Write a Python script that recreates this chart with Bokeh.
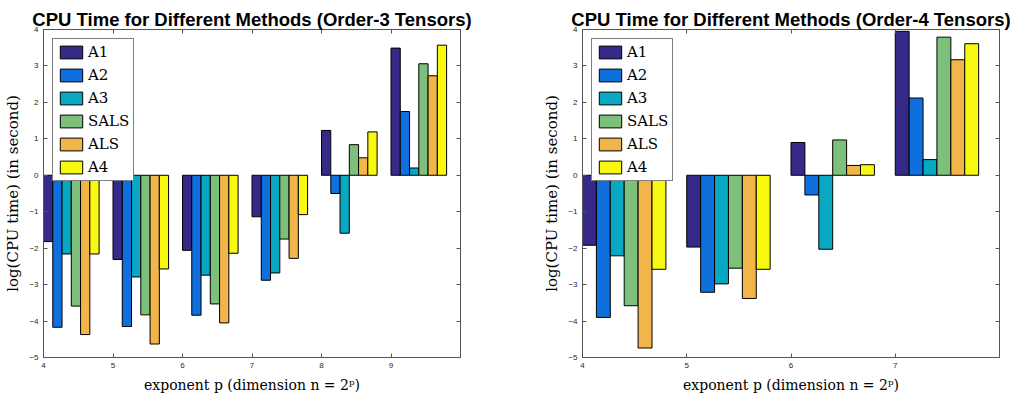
import numpy as np
from bokeh.plotting import figure
from bokeh.models import FixedTicker, LinearAxis, Range1d, Legend, LegendItem
from bokeh.layouts import row
from bokeh.embed import file_html
from bokeh.resources import INLINE

methods = ["A1", "A2", "A3", "SALS", "ALS", "A4"]
colors = ["#352a87", "#0f6fdd", "#08a8c2", "#7dc07c", "#f1b54a", "#f8f810"]

p_order3 = [4, 5, 6, 7, 8, 9]
order3 = {
    "A1":   [-1.82, -2.31, -2.06, -1.14, 1.23, 3.49],
    "A2":   [-4.17, -4.15, -3.84, -2.88, -0.50, 1.75],
    "A3":   [-2.16, -2.79, -2.74, -2.68, -1.59, 0.20],
    "SALS": [-3.59, -3.83, -3.53, -1.75, 0.84, 3.06],
    "ALS":  [-4.37, -4.63, -4.05, -2.28, 0.48, 2.73],
    "A4":   [-2.16, -2.57, -2.14, -1.08, 1.19, 3.57],
}

p_order4 = [4, 5, 6, 7]
order4 = {
    "A1":   [-1.92, -1.97, 0.90, 3.95],
    "A2":   [-3.90, -3.21, -0.54, 2.12],
    "A3":   [-2.21, -2.98, -2.03, 0.43],
    "SALS": [-3.58, -2.55, 0.97, 3.79],
    "ALS":  [-4.74, -3.38, 0.27, 3.17],
    "A4":   [-2.58, -2.58, 0.29, 3.61],
}

titles = ["CPU Time for Different Methods (Order-3 Tensors)",
          "CPU Time for Different Methods (Order-4 Tensors)"]
y_ticks = [-5, -4, -3, -2, -1, 0, 1, 2, 3, 4]
x_label = "exponent p (dimension n = 2\u1d56)"
y_label = "log(CPU time) (in second)"

AX = "#555555"
TICK_FONT = "Liberation Sans"
SERIF = "DejaVu Serif"


def make_panel(title, ps, data, xmax, border_left, border_right):
    f = figure(width=507, height=396, output_backend="svg", toolbar_location=None,
               x_range=Range1d(4, xmax), y_range=Range1d(-5, 4),
               min_border_left=border_left, min_border_right=border_right,
               min_border_top=29, min_border_bottom=39)
    f.title.text = title
    f.title.align = "center"
    f.title.text_font = "Liberation Sans"
    f.title.text_font_size = "18.5px"
    f.title.text_font_style = "bold"
    f.title.text_color = "black"
    f.title.standoff = 0
    f.title.offset = 0
    f.grid.visible = False
    f.outline_line_color = AX
    f.outline_line_width = 1
    f.background_fill_color = "white"
    f.border_fill_color = "white"

    w = 0.8 / len(methods)
    ps_arr = np.array(ps, dtype=float)
    items = []
    for i, m in enumerate(methods):
        r = f.vbar(x=ps_arr + (i + 0.5) * w, top=data[m], bottom=0, width=w,
                   fill_color=colors[i], line_color="black", line_width=1)
        items.append(LegendItem(label=m, renderers=[r]))

    xt = FixedTicker(ticks=list(range(4, int(xmax))))
    yt = FixedTicker(ticks=y_ticks)
    for ax in f.xaxis:
        ax.ticker = xt
    for ax in f.yaxis:
        ax.ticker = yt
    for ax in list(f.xaxis) + list(f.yaxis):
        ax.major_tick_in = 4
        ax.major_tick_out = 0
        ax.minor_tick_line_color = None
        ax.axis_line_color = AX
        ax.major_tick_line_color = AX
        ax.major_label_text_font = TICK_FONT
        ax.major_label_text_font_size = "8px"
        ax.major_label_text_color = "#262626"
        ax.major_label_standoff = 5
        ax.axis_label_text_font = SERIF
        ax.axis_label_text_font_size = "15px"
        ax.axis_label_text_font_style = "normal"
        ax.axis_label_text_color = "black"
        ax.axis_label_standoff = 6
    f.xaxis.axis_label = x_label
    f.xaxis.axis_label_text_font_size = "14px"
    f.yaxis.axis_label = y_label
    f.yaxis.axis_label_standoff = 4

    top = LinearAxis(ticker=xt, major_tick_in=4, major_tick_out=0,
                     minor_tick_line_color=None, axis_line_color=AX,
                     major_tick_line_color=AX, major_label_text_font_size="0px",
                     major_label_standoff=0,
                     major_label_overrides={t: "" for t in range(4, int(xmax))})
    right = LinearAxis(ticker=yt, major_tick_in=4, major_tick_out=0,
                       minor_tick_line_color=None, axis_line_color=AX,
                       major_tick_line_color=AX, major_label_text_font_size="0px",
                       major_label_standoff=0,
                       major_label_overrides={t: "" for t in y_ticks})
    f.add_layout(top, "above")
    f.add_layout(right, "right")

    leg = Legend(items=items, location="top_left", margin=9, padding=4,
                 spacing=5, glyph_width=28, glyph_height=16, label_height=16,
                 label_standoff=3, label_text_font=SERIF,
                 label_text_font_size="15px", label_text_color="black",
                 border_line_color="black", border_line_width=1,
                 background_fill_color="white", background_fill_alpha=1)
    f.add_layout(leg, "center")
    return f


left = make_panel(titles[0], p_order3, order3, 10, 43, 47)
right_fig = make_panel(titles[1], p_order4, order4, 8, 75, 15)

layout = row(left, right_fig)
open("out.html", "w").write(file_html(layout, INLINE))
